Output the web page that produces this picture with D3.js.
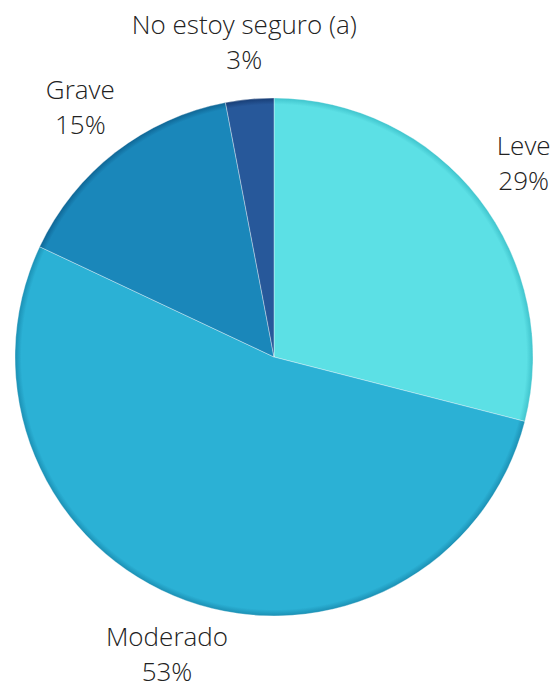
<!DOCTYPE html>
<html>
<head>
<meta charset="utf-8">
<script src="https://cdn.jsdelivr.net/npm/d3@7"></script>
<style>
  html, body { margin: 0; padding: 0; background: #fff; }
  svg { display: block; }
  text { font-family: "Open Sans", sans-serif; font-size: 26px; font-weight: 300; fill: #222; }
</style>
</head>
<body>
<svg id="chart" width="552" height="691"></svg>
<script>
const categories = ["Leve", "Moderado", "Grave", "No estoy seguro (a)"];
const values = [29, 53, 15, 3];
const colors = ["#5ce0e5", "#2bb1d5", "#1a87ba", "#27589a"];
const edgeColors = ["#3fc3cc", "#1b8fb3", "#0f6594", "#173c74"];

const width = 552, height = 691;
const cx = 274, cy = 357, radius = 259, labelRadius = 316;

const svg = d3.select("#chart");
const defs = svg.append("defs");

const data = categories.map((c, i) => ({ name: c, value: values[i], i }));

// Darkened rim for each wedge (coordinates local to the centred group)
data.forEach(d => {
  const g = defs.append("radialGradient")
    .attr("id", "rim" + d.i)
    .attr("gradientUnits", "userSpaceOnUse")
    .attr("cx", 0).attr("cy", 0).attr("r", radius);
  g.append("stop").attr("offset", "0%").attr("stop-color", colors[d.i]);
  g.append("stop").attr("offset", "97.5%").attr("stop-color", colors[d.i]);
  g.append("stop").attr("offset", "100%").attr("stop-color", edgeColors[d.i]);
});

const pie = d3.pie().value(d => d.value).sort(null);
const arc = d3.arc().innerRadius(0).outerRadius(radius);
const labelArc = d3.arc().innerRadius(labelRadius).outerRadius(labelRadius);

const arcs = pie(data);
const g = svg.append("g").attr("transform", `translate(${cx},${cy})`);

g.selectAll("path.slice")
  .data(arcs)
  .join("path")
  .attr("class", "slice")
  .attr("d", arc)
  .attr("fill", d => `url(#rim${d.data.i})`)
  .attr("stroke", "rgba(255,255,255,0.35)")
  .attr("stroke-width", 1)
  .attr("stroke-linejoin", "round");

const labels = g.selectAll("g.label")
  .data(arcs)
  .join("g")
  .attr("class", "label")
  .attr("transform", d => `translate(${labelArc.centroid(d)})`);

labels.append("text")
  .attr("text-anchor", "middle")
  .attr("y", -8)
  .text(d => d.data.name);

labels.append("text")
  .attr("text-anchor", "middle")
  .attr("y", 27)
  .text(d => d.data.value + "%");
</script>
</body>
</html>
